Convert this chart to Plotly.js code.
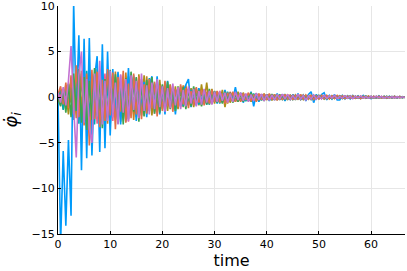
<!DOCTYPE html>
<html>
<head>
<meta charset="utf-8">
<script src="https://cdn.plot.ly/plotly-3.0.1.min.js"></script>
<style>html,body{margin:0;padding:0;background:#fff;}#chart{width:407px;height:271px;}</style>
</head>
<body>
<div id="chart"></div>
<script>
const time = [0,0.5,1,1.5,2,2.5,3,3.5,4,4.5,5,5.5,6,6.5,7,7.5,8,8.5,9,9.5,
10,10.5,11,11.5,12,12.5,13,13.5,14,14.5,15,15.5,16,16.5,17,17.5,18,18.5,19,19.5,
20,20.5,21,21.5,22,22.5,23,23.5,24,24.5,25,25.5,26,26.5,27,27.5,28,28.5,29,29.5,
30,30.5,31,31.5,32,32.5,33,33.5,34,34.5,35,35.5,36,36.5,37,37.5,38,38.5,39,39.5,
40,40.5,41,41.5,42,42.5,43,43.5,44,44.5,45,45.5,46,46.5,47,47.5,48,48.5,49,49.5,
50,50.5,51,51.5,52,52.5,53,53.5,54,54.5,55,55.5,56,56.5,57,57.5,58,58.5,59,59.5,
60,60.5,61,61.5,62,62.5,63,63.5,64,64.5,65,65.5,66,66.5];

const phi1 = [0,-16,-5.9,-14.1,-4.7,-13.0,10.3,-1.5,6.8,-8.0,
6.4,-6.7,6.5,-6.4,2.1,4.5,-6.0,5.8,-5.6,5.0,
-4.2,3.1,-2.5,2.8,-3.0,1.9,-2.7,3.2,-1.8,2.4,
-2.6,2.0,-1.5,1.7,-2.2,1.3,2.3,-1.2,2.3,-1.9,
1.2,-1.9,1.8,-0.8,0.9,-1.9,1.1,-1.0,0.7,1.4,
2.0,-1.1,0.8,-0.9,1.0,-0.6,0.7,-0.8,0.5,-0.6,
0.6,-0.7,0.4,-0.5,0.8,-0.4,0.4,-0.3,1.1,-0.4,
0.5,-0.6,0.3,-0.4,0.6,-1.0,0.4,-0.5,0.3,-0.3,
0.3,-0.4,0.2,-0.3,0.4,-0.2,0.3,-0.4,0.2,-0.3,
0.3,-0.2,0.4,-0.3,0.2,-0.4,0.3,0.6,-0.6,0.3,
-0.2,0.3,0.5,-0.3,0.2,-0.2,0.3,-0.3,-0.3,0.2,
-0.2,0.15,-0.2,0.2,-0.1,0.15,-0.15,0.2,-0.1,0.1,
-0.15,0.1,-0.1,0.15,-0.1,0.1,-0.12,0.1,-0.08,0.1,
-0.1,0.08,-0.06,0.05];

const phi2 = [0.3,1.2,-0.8,1.6,-1.2,2.4,-1.9,3.5,-2.2,2.9,
-3.1,2.6,-5.3,3.0,-2.4,2.8,-3.3,1.9,-2.6,3.1,
-2.0,2.7,-3.5,2.2,-1.6,2.9,-2.8,1.5,-2.3,2.6,
-1.9,2.3,-2.4,1.4,-1.8,2.0,-1.2,1.7,-2.1,1.3,
-1.5,1.8,-1.0,1.3,-1.6,0.9,-1.1,1.4,-0.8,1.0,
-1.2,0.7,-0.9,1.1,-0.6,0.8,-0.9,0.6,-0.7,0.8,
-0.5,0.7,-0.6,0.4,-0.7,0.5,-0.4,0.6,-0.5,0.3,
-0.5,0.4,-0.3,0.5,-0.4,0.3,-0.5,0.4,-0.3,0.35,
-0.3,0.4,-0.25,0.3,-0.35,0.2,-0.3,0.3,-0.2,0.25,
-0.3,0.2,-0.25,0.3,-0.2,0.25,-0.2,0.2,-0.25,0.15,
-0.2,0.2,-0.15,0.2,-0.2,0.15,-0.15,0.2,-0.1,0.15,
-0.15,0.12,-0.1,0.15,-0.12,0.1,-0.15,0.1,-0.1,0.12,
-0.1,0.1,-0.08,0.1,-0.1,0.08,-0.1,0.07,-0.08,0.1,
-0.07,0.08,-0.06,0.05];

const phi3 = [-0.2,-1.0,0.9,-1.7,1.4,-2.2,2.6,-1.5,3.1,-2.8,
2.2,-3.6,1.8,-2.5,3.2,-2.0,2.4,-3.4,2.0,-2.2,
3.0,-1.8,2.5,-2.9,1.7,-3.0,2.1,-2.4,2.8,-1.6,
2.2,-2.7,1.6,-2.1,1.9,-1.5,2.2,-1.8,1.2,-1.7,
1.4,-1.2,1.7,-1.3,0.9,-1.5,1.2,-0.8,1.1,-1.3,
0.9,-1.0,1.2,-0.7,0.8,-1.0,0.6,-0.8,0.9,-0.6,
0.7,-0.6,0.5,-0.7,0.6,-0.4,0.5,-0.6,0.4,-0.5,
0.4,-0.5,0.3,-0.4,0.5,-0.3,0.4,-0.35,0.3,-0.4,
0.3,-0.3,0.35,-0.25,0.3,-0.3,0.2,-0.3,0.25,-0.2,
0.25,-0.3,0.2,-0.2,0.25,-0.2,0.15,-0.25,0.2,-0.15,
0.2,-0.15,0.15,-0.2,0.1,-0.15,0.15,-0.1,0.15,-0.15,
0.12,-0.1,0.15,-0.1,0.1,-0.12,0.1,-0.1,0.12,-0.08,
0.1,-0.1,0.08,-0.1,0.07,-0.08,0.1,-0.07,0.08,-0.06,
0.07,-0.05,0.06,-0.04];

const phi4 = [0.5,-0.6,1.1,-0.9,1.8,5.6,-1.0,-6.6,2.4,5.0,
-2.8,2.0,-3.4,-5.0,2.6,-2.1,4.0,-3.0,1.8,-2.6,
2.9,-2.2,1.6,-3.0,2.5,-1.7,2.0,-2.6,2.4,-1.4,
1.8,-2.3,2.6,-1.5,1.3,-1.9,1.6,-1.3,2.0,-1.1,
1.2,-1.6,1.0,-1.2,1.5,-0.9,1.1,-1.3,0.8,-1.0,
1.2,-0.7,0.9,-1.0,0.7,-0.8,0.9,-0.6,0.7,-0.8,
0.6,-0.5,0.7,-0.4,0.5,-0.6,0.4,-0.5,0.6,-0.3,
0.5,-0.4,0.4,-0.5,0.3,-0.4,0.45,-0.3,0.35,-0.4,
0.3,-0.35,0.25,-0.3,0.3,-0.25,0.35,-0.2,0.3,-0.25,
0.2,-0.25,0.3,-0.2,0.2,-0.3,0.15,-0.2,0.25,-0.2,
0.15,-0.2,0.2,-0.15,0.15,-0.1,0.2,-0.15,0.1,-0.12,
0.15,-0.1,0.12,-0.15,0.1,-0.1,0.12,-0.1,0.08,-0.1,
0.1,-0.08,0.1,-0.07,0.08,-0.1,0.07,-0.08,0.06,-0.07,
0.06,-0.05,0.05,-0.04];

const phi5 = [-0.4,0.8,-1.3,0.6,-1.9,1.5,-2.4,2.0,-1.7,2.6,
-2.3,1.4,-2.8,2.4,-1.6,3.1,-2.6,2.1,-1.9,2.7,
-3.0,1.9,-2.2,2.5,-2.7,1.6,-2.0,2.3,-1.5,2.0,
-2.2,2.5,-1.7,2.4,-1.4,1.8,-2.0,1.3,-1.6,1.9,
-1.3,1.1,-1.5,1.4,-0.9,1.2,-1.3,0.8,-1.1,1.3,
-0.8,1.0,-1.1,0.7,-0.9,1.4,-0.6,1.6,-0.8,0.9,
-0.7,0.6,-0.5,0.8,-1.1,0.5,-0.6,0.4,-0.5,0.6,
-0.4,0.5,-0.3,0.4,-0.5,0.3,-0.4,0.35,-0.3,0.4,
-0.3,0.25,-0.35,0.3,-0.2,0.3,-0.25,0.2,-0.3,0.2,
-0.2,0.25,-0.2,0.2,-0.25,0.15,-0.2,0.2,-0.15,0.2,
-0.15,0.15,-0.2,0.12,-0.15,0.1,-0.12,0.15,-0.1,0.12,
-0.1,0.12,-0.1,0.1,-0.12,0.08,-0.1,0.1,-0.08,0.1,
-0.08,0.07,-0.1,0.08,-0.06,0.08,-0.07,0.06,-0.08,0.06,
-0.05,0.06,-0.04,0.05];

const phi6 = [0.1,0.9,-1.4,1.3,-0.8,2.0,-2.5,1.1,-2.9,2.3,
-1.4,2.9,-2.1,1.7,-3.0,2.2,-1.6,2.5,-2.8,1.5,
-2.4,2.0,-1.3,2.6,-2.1,1.4,-2.5,1.8,-1.7,2.2,
-1.5,1.6,-2.0,1.2,-1.7,2.1,-1.1,1.5,-1.4,1.0,
-1.1,1.3,-0.9,1.1,-1.3,0.8,-0.9,1.2,-1.0,0.7,
-0.9,0.8,-0.6,1.0,-0.8,0.6,-0.7,0.5,-0.8,0.6,
-0.5,0.6,-0.7,0.4,-0.5,0.6,-0.4,0.5,-0.4,0.3,
-0.4,0.35,-0.45,0.3,-0.35,0.4,-0.3,0.3,-0.35,0.25,
-0.25,0.3,-0.2,0.25,-0.3,0.2,-0.25,0.25,-0.2,0.2,
-0.25,0.2,-0.15,0.2,-0.2,0.15,-0.2,0.15,-0.15,0.2,
-0.12,0.15,-0.15,0.1,-0.12,0.15,-0.1,0.12,-0.12,0.1,
-0.1,0.1,-0.12,0.08,-0.1,0.1,-0.08,0.1,-0.08,0.07,
-0.08,0.07,-0.06,0.08,-0.07,0.06,-0.07,0.06,-0.05,0.06,
-0.05,0.04,-0.05,0.04];

const phi7 = [0.0,0.2,-0.3,0.1,0.4,-0.5,0.9,-1.2,1.6,-1.9,
2.3,-1.5,2.7,-2.4,1.9,-2.9,2.1,-1.7,2.6,-2.3,
1.8,-2.6,2.2,-1.5,2.4,-2.1,1.6,-2.7,1.9,-1.8,
2.1,-1.6,1.4,-2.0,1.7,-1.3,1.5,-1.8,1.1,-1.4,
1.3,-1.0,1.4,-1.1,0.8,-1.2,1.0,-0.9,1.2,-0.8,
0.9,-1.0,0.7,-0.8,0.9,-0.6,0.8,-0.7,0.5,-0.7,
0.6,-0.5,0.4,-0.6,0.5,-0.4,0.6,-0.4,0.3,-0.5,
0.4,-0.3,0.35,-0.4,0.3,-0.35,0.3,-0.3,0.35,-0.25,
0.3,-0.25,0.2,-0.3,0.25,-0.2,0.3,-0.2,0.2,-0.25,
0.2,-0.2,0.25,-0.15,0.2,-0.2,0.15,-0.2,0.15,-0.15,
0.15,-0.12,0.15,-0.15,0.1,-0.12,0.12,-0.1,0.15,-0.1,
0.1,-0.1,0.08,-0.12,0.1,-0.08,0.1,-0.07,0.08,-0.1,
0.07,-0.08,0.06,-0.07,0.08,-0.06,0.07,-0.05,0.06,-0.07,
0.05,-0.05,0.04,-0.04];

const phi8 = [-0.1,-0.7,0.5,-1.1,1.5,-0.6,1.9,-2.3,2.8,-1.4,
3.2,-2.6,1.7,-3.1,2.5,-1.9,3.0,-2.2,1.4,-2.9,
2.4,-1.7,2.8,-2.0,1.5,-2.3,2.7,-1.6,2.1,-2.5,
1.6,-1.9,2.0,-1.4,2.3,-1.2,1.7,-1.6,1.3,-1.5,
1.0,-1.3,1.2,-0.9,1.1,-1.2,0.8,-1.0,1.3,-0.7,
0.9,-0.8,1.0,-0.6,0.7,-0.9,0.8,-0.5,0.6,-0.7,
0.5,-0.6,0.6,-0.5,0.4,-0.7,0.5,-0.3,0.6,-0.4,
0.35,-0.4,0.3,-0.35,0.4,-0.3,0.35,-0.4,0.25,-0.3,
0.3,-0.2,0.25,-0.3,0.2,-0.25,0.3,-0.2,0.25,-0.2,
0.2,-0.15,0.2,-0.25,0.15,-0.2,0.2,-0.15,0.15,-0.2,
0.12,-0.15,0.15,-0.1,0.12,-0.15,0.1,-0.12,0.1,-0.1,
0.1,-0.08,0.1,-0.1,0.08,-0.1,0.07,-0.08,0.1,-0.07,
0.06,-0.07,0.08,-0.06,0.07,-0.05,0.06,-0.07,0.05,-0.06,
0.05,-0.04,0.05,-0.04];

// drawing order (last drawn on top): palette cycles so purple ends on top
const seriesValues = [phi5, phi6, phi7, phi8, phi1, phi2, phi3, phi4];
const seriesNames = ["y5","y6","y7","y8","y1","y2","y3","y4"];
const palette = ["#AC8E18","#00AAAE","#ED5E93","#C68225","#009AFA","#E36F47","#3EA44E","#C371D2"];
const xTicks = [0,10,20,30,40,50,60];
const yTicks = [-15,-10,-5,0,5,10];

const traces = seriesValues.map((v, k) => ({
  x: time, y: v, type: "scatter", mode: "lines", name: seriesNames[k],
  line: {color: palette[k], width: 1.6}, hoverinfo: "skip"
}));

const font = "DejaVu Sans, sans-serif";
const layout = {
  width: 407, height: 271,
  margin: {l: 58, r: 2, t: 6, b: 37, pad: 0},
  paper_bgcolor: "#fff", plot_bgcolor: "#fff",
  showlegend: false,
  font: {family: font, size: 11, color: "#000"},
  xaxis: {
    range: [0, 66.5], tickvals: xTicks, ticktext: xTicks.map(String),
    showgrid: true, gridcolor: "#e6e6e6", gridwidth: 1, zeroline: false,
    showline: true, linecolor: "#000", linewidth: 1,
    ticks: "inside", ticklen: 3, tickcolor: "#000",
    ticklabeloverflow: "allow",
    tickfont: {family: font, size: 11, color: "#000"},
    title: {text: "time", font: {family: font, size: 16, color: "#000"}, standoff: 3},
    automargin: false
  },
  yaxis: {
    range: [-15.001, 10.001], tickvals: yTicks,
    ticktext: yTicks.map(v => v < 0 ? "\u2212" + Math.abs(v) : String(v)),
    showgrid: true, gridcolor: "#e6e6e6", gridwidth: 1, zeroline: false,
    showline: true, linecolor: "#000", linewidth: 1,
    ticks: "inside", ticklen: 3, tickcolor: "#000",
    ticklabeloverflow: "allow",
    tickfont: {family: font, size: 11, color: "#000"},
    title: {text: "<i>φ\u0307</i><sub><i>i</i></sub>", font: {family: font, size: 18, color: "#000"}, standoff: 10},
    automargin: false
  }
};

Plotly.newPlot("chart", traces, layout, {displayModeBar: false, staticPlot: true});
</script>
</body>
</html>
